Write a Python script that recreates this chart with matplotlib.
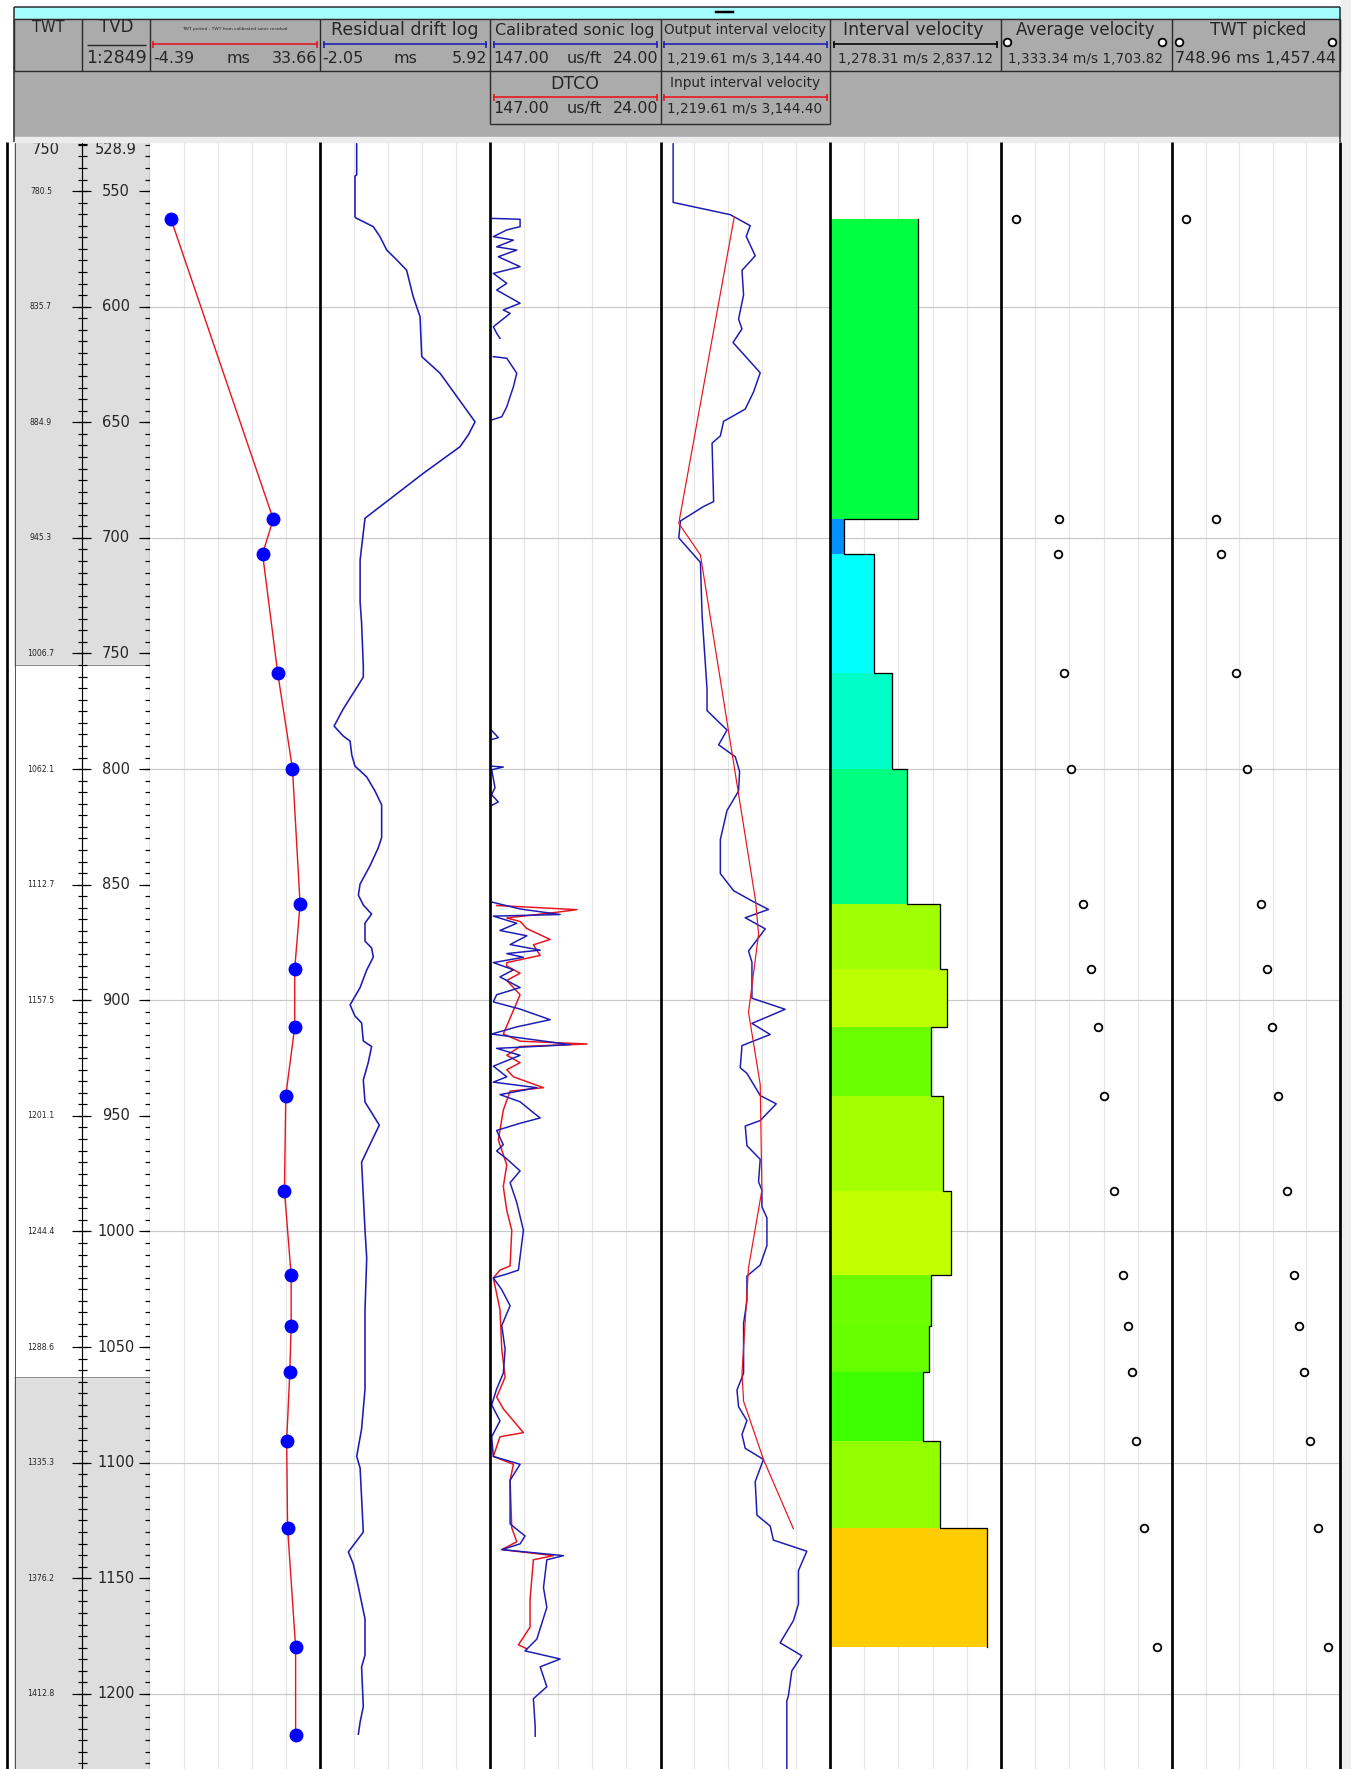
import numpy as np
import matplotlib
matplotlib.use("Agg")
import matplotlib.pyplot as plt
from matplotlib.patches import Rectangle

plt.rcParams['font.family'] = ['DejaVu Sans']

# ---------------- data ----------------
# check-shot depths (TVD, m) and TWT residual (ms)
cs_depth = [562.1, 691.9, 706.9, 758.5, 799.8, 858.4, 886.4, 911.5, 941.3,
            982.3, 1018.9, 1040.9, 1060.9, 1090.6, 1128.1, 1179.7, 1217.7]
twt_residual = [0.3, 23.2, 20.8, 24.2, 27.5, 29.2, 28.0, 28.0, 26.0,
                25.7, 27.2, 27.2, 26.9, 26.2, 26.4, 28.2, 28.2]

# residual drift log (ms)
drift_depth = [528.9, 543.0, 543.5, 561.2, 561.8, 565.4, 569.7, 575.5, 579.8, 584.2,
               595.7, 604.3, 621.6, 628.8, 649.8, 655.5, 660.6, 672.1, 691.5, 709.6,
               727.7, 736.8, 755.4, 760.2, 764.8, 769.3, 774.0, 781.4, 785.7, 787.9,
               793.9, 798.7, 803.4, 809.5, 815.5, 829.6, 834.1, 841.9, 849.7, 854.5,
               858.8, 862.7, 866.6, 874.4, 877.4, 881.3, 886.9, 894.5, 902.0, 906.8,
               909.8, 917.6, 920.0, 927.0, 934.5, 944.0, 948.6, 954.0, 960.9, 970.0,
               999.4, 1011.5, 1034.0, 1068.2, 1085.4, 1097.3, 1102.3, 1130.0, 1138.6, 1143.8,
               1153.8, 1167.6, 1183.2, 1188.4, 1205.5, 1212.2, 1217.4]
drift_val = [-0.33, -0.33, -0.41, -0.41, -0.33, 0.45, 0.76, 1.08, 1.55, 2.01,
             2.32, 2.64, 2.72, 3.58, 5.22, 4.90, 4.51, 2.79, 0.06, -0.17,
             -0.17, -0.10, -0.02, -0.02, -0.33, -0.64, -0.96, -1.39, -0.96, -0.64,
             -0.56, -0.41, 0.14, 0.53, 0.84, 0.84, 0.68, 0.29, -0.17, -0.25,
             -0.02, 0.37, 0.06, 0.06, 0.37, 0.45, 0.14, -0.17, -0.64, -0.41,
             -0.10, -0.02, 0.37, 0.21, -0.02, 0.06, 0.37, 0.73, 0.37, -0.10,
             0.06, 0.14, 0.06, 0.06, -0.10, -0.33, -0.17, -0.02, -0.72, -0.49,
             -0.25, 0.06, 0.06, -0.10, -0.02, -0.17, -0.25]

nan = np.nan
# calibrated sonic log (us/ft)
cal_depth = [561.8, 562.2, 565.4, 566.8, 569.7, 571.2, 574.1, 575.5, 578.4, 582.7,
             585.6, 589.9, 592.8, 598.5, 601.4, 602.9, 608.7, 611.5, 613.7, nan,
             621.6, 622.3, 628.8, 634.6, 638.9, 643.3, 647.6, 649.0, nan,
             782.5, 786.4, 787.2, nan,
             798.7, 799.1, 800.3, 808.0, 811.1, 814.2, 815.7, nan,
             857.5, 860.5, 862.9, 863.6, 866.7, 869.8, 872.1, 875.9, 878.3, 879.8,
             881.4, 883.7, 886.8, 889.9, 894.5, 897.6, 900.7, 903.8, 908.4, 911.5,
             914.6, 919.2, 920.8, 923.8, 928.5, 933.1, 935.4, 937.8, 940.8, 943.9,
             948.6, 950.9, 953.2, 956.3, 962.5, 965.2, 968.6, 973.8, 978.9, 987.5,
             999.5, 1016.7, 1018.4, 1020.1, 1025.2, 1032.1, 1040.7, 1051.0, 1061.3, 1068.1,
             1075.0, 1081.9, 1088.8, 1097.3, 1100.7, 1107.6, 1126.5, 1131.7, 1135.1, 1137.6,
             1140.2, 1142.0, 1154.0, 1162.6, 1176.3, 1181.4, 1184.9, 1188.3, 1196.9, 1202.1,
             1214.1, 1218.3]
cal_dt = [145.8, 125.3, 125.3, 134.9, 144.6, 130.1, 142.2, 127.7, 141.0, 125.3,
          144.6, 134.9, 142.2, 125.3, 137.4, 132.5, 144.6, 142.2, 139.8, nan,
          144.6, 134.9, 127.7, 130.1, 132.5, 134.9, 138.5, 145.8, nan,
          147.0, 141.0, 145.8, nan,
          147.0, 137.4, 145.8, 143.4, 145.8, 141.0, 145.8, nan,
          145.8, 125.3, 96.4, 144.6, 127.7, 139.8, 120.4, 132.5, 110.8, 134.9,
          122.9, 144.6, 130.1, 139.8, 125.3, 142.2, 144.6, 125.3, 103.6, 127.7,
          145.8, 89.1, 142.2, 125.3, 144.6, 134.9, 144.6, 113.2, 139.8, 125.3,
          115.7, 110.8, 125.3, 142.2, 137.4, 142.2, 134.9, 125.3, 132.5, 127.7,
          122.9, 126.5, 134.9, 144.6, 138.5, 132.5, 138.5, 136.1, 137.4, 142.2,
          145.8, 139.8, 145.8, 144.6, 125.3, 132.5, 132.5, 121.7, 125.3, 138.5,
          94.0, 106.0, 108.4, 106.0, 113.2, 121.7, 96.4, 110.8, 106.0, 115.7,
          114.4, 114.4]

# DTCO (us/ft)
dtco_depth = [859.0, 860.8, 862.1, 864.4, 865.9, 869.0, 873.7, 876.0, 880.6, 883.7,
              885.2, 888.3, 891.4, 897.6, 914.6, 917.7, 918.9, 920.0, 923.8, 927.0,
              930.0, 933.1, 937.8, 939.3, 947.5, 960.4, 971.2, 980.6, 990.9, 999.5,
              1014.9, 1016.7, 1020.1, 1033.8, 1051.0, 1063.0, 1071.6, 1076.7, 1087.0, 1088.8,
              1097.3, 1100.7, 1107.6, 1128.2, 1134.2, 1137.6, 1140.2, 1142.0, 1159.1, 1171.1,
              1178.8, 1180.5]
dtco_val = [142.2, 84.3, 101.2, 134.9, 125.3, 120.4, 103.6, 115.7, 110.8, 134.9,
            134.9, 125.3, 134.9, 125.3, 137.4, 125.3, 77.0, 125.3, 134.9, 125.3,
            134.9, 130.1, 108.4, 132.5, 137.4, 141.0, 134.9, 137.4, 134.9, 131.3,
            132.5, 139.8, 144.6, 139.8, 138.5, 136.1, 142.2, 137.4, 122.9, 139.8,
            144.6, 130.1, 132.5, 131.3, 127.7, 138.5, 101.2, 115.7, 118.1, 118.1,
            126.5, 120.4]

# output interval velocity (m/s)
out_depth = [528.9, 554.9, 560.2, 565.0, 569.6, 578.0, 584.3, 594.9, 605.4, 609.6,
             615.5, 628.6, 636.9, 644.3, 649.6, 655.9, 659.0, 684.3, 686.4, 692.7,
             700.0, 710.6, 733.7, 765.3, 774.7, 783.1, 789.5, 794.7, 801.1, 809.5,
             817.9, 830.5, 845.2, 852.6, 857.4, 860.7, 864.3, 869.1, 878.7, 883.5,
             899.1, 903.9, 910.0, 914.8, 919.6, 929.2, 931.6, 941.2, 944.8, 952.0,
             954.4, 962.9, 968.8, 978.5, 982.1, 989.3, 994.1, 1006.1, 1014.5, 1019.3,
             1030.1, 1039.7, 1061.3, 1068.6, 1075.8, 1081.8, 1087.8, 1093.8, 1098.6, 1108.2,
             1122.7, 1127.4, 1133.5, 1138.3, 1146.7, 1161.1, 1168.3, 1177.9, 1183.5, 1190.0,
             1200.8, 1203.1, 1232.5]
out_vel = [1363, 1363, 2012, 2239, 2193, 2295, 2145, 2163, 2106, 2145,
           2043, 2352, 2276, 2182, 1936, 1899, 1805, 1823, 1710, 1446,
           1427, 1673, 1692, 1748, 1748, 1975, 1880, 2069, 2118, 2106,
           1975, 1899, 1899, 2050, 2276, 2446, 2182, 2409, 2219, 2258,
           2258, 2635, 2258, 2465, 2145, 2125, 2201, 2352, 2534, 2352,
           2182, 2201, 2352, 2333, 2371, 2371, 2428, 2428, 2352, 2201,
           2201, 2163, 2163, 2088, 2106, 2201, 2145, 2182, 2389, 2295,
           2315, 2465, 2502, 2881, 2786, 2786, 2729, 2578, 2824, 2711,
           2672, 2654, 2654]

# input interval velocity (m/s)
in_depth = [561.2, 693.7, 707.4, 857.1, 871.5, 905.2, 936.4, 982.1, 1015.7, 1061.3,
            1073.4, 1098.6, 1128.6]
in_vel = [2057, 1427, 1673, 2300, 2333, 2219, 2352, 2371, 2219, 2145,
          2163, 2389, 2729]

# interval velocity blocks (between check shots)
int_vel = [2077.8, 1405.9, 1679.4, 1840.8, 1983.0, 2281.1, 2347.7, 2199.0,
           2311.2, 2378.6, 2199.0, 2183.5, 2123.1, 2281.1, 2712.3]
int_colors = ['#00ff40', '#0090ff', '#00ffff', '#00ffc8', '#00ff80', '#a0ff00',
              '#bcff00', '#6cff00', '#a4ff00', '#c4ff00', '#6cff00', '#66ff00',
              '#3cff00', '#94ff00', '#ffcc00']

# average velocity (m/s) and TWT picked (ms) at check shots
avg_vel = [1365.2, 1458.3, 1456.8, 1470.5, 1485.0, 1511.6, 1528.3, 1542.8,
           1557.1, 1578.8, 1598.3, 1609.2, 1616.5, 1625.8, 1642.5, 1670.7]
twt_picked = [806.7, 933.2, 954.3, 1018.9, 1064.0, 1123.0, 1148.3, 1169.4,
              1197.2, 1232.7, 1263.4, 1284.5, 1305.6, 1330.9, 1365.9, 1405.6]

# depth scale labels
tvd_ticks = [550, 600, 650, 700, 750, 800, 850, 900, 950, 1000, 1050, 1100, 1150, 1200]
twt_labels = ['780.5', '835.7', '884.9', '945.3', '1006.7', '1062.1', '1112.7',
              '1157.5', '1201.1', '1244.4', '1288.6', '1335.3', '1376.2', '1412.8']
grid_depths = [600, 700, 800, 900, 1000, 1100, 1200]

# ---------------- layout ----------------
W, H = 1351, 1769
Y_TOP = 142.3
PX_PER_M = 2.312
D_TOP = 528.9
D_BOT = D_TOP + (H - Y_TOP) / PX_PER_M

fig = plt.figure(figsize=(W / 100, H / 100), dpi=100)
fig.patch.set_facecolor('white')


def ax_px(x0, y0, x1, y1):
    return fig.add_axes([x0 / W, 1 - y1 / H, (x1 - x0) / W, (y1 - y0) / H])


TXT = '#262626'
BLUE = '#1c1cb4'
RED = '#e8141e'
PT = 0.72  # points per pixel

# ---- depth track ----
axd = ax_px(14, Y_TOP, 150, H)
axd.set_xlim(14, 150)
axd.set_ylim(D_BOT, D_TOP)
axd.set_facecolor('#dedede')
for s in axd.spines.values():
    s.set_visible(False)
axd.set_xticks([])
axd.set_yticks([])
axd.axhspan(755, 1063, color='white', zorder=0)
axd.hlines([755, 1063], 14, 150, color='#8c8c8c', lw=1 * PT)
axd.vlines(82, D_TOP, D_BOT, color='black', lw=1.2 * PT)
axd.vlines(149.5, D_TOP, D_BOT, color='black', lw=1.2 * PT)
axd.vlines(14.5, D_TOP, D_BOT, color='#555555', lw=1 * PT)
minor = np.arange(530, D_BOT, 5)
axd.hlines(minor, 78, 86.5, color='black', lw=1.2 * PT)
axd.hlines(minor, 145, 150, color='black', lw=1.2 * PT)
axd.hlines(tvd_ticks, 72, 91, color='black', lw=1.2 * PT)
axd.hlines(tvd_ticks, 139, 150, color='black', lw=1.2 * PT)
axd.hlines([D_TOP + 0.6], 78, 86.5, color='black', lw=1.2 * PT)
for d, lab in zip(tvd_ticks, twt_labels):
    axd.text(116, d, str(d), ha='center', va='center', fontsize=10.5, color=TXT)
    axd.text(41, d, lab, ha='center', va='center', fontsize=5.6, color=TXT)
axd.text(116, D_TOP + 2.9, '528.9', ha='center', va='center', fontsize=10.5, color=TXT)
axd.text(46, D_TOP + 2.9, '750', ha='center', va='center', fontsize=10.5, color=TXT)


def make_track(x0, x1, lim):
    ax = ax_px(x0, Y_TOP, x1, H)
    ax.set_xlim(*lim)
    ax.set_ylim(D_BOT, D_TOP)
    ax.set_facecolor('white')
    for s in ax.spines.values():
        s.set_visible(False)
    ax.set_xticks([])
    ax.set_yticks([])
    for k in range(1, 5):
        ax.axvline(lim[0] + k * (lim[1] - lim[0]) / 5, color='#e6e6e6', lw=1.2 * PT, zorder=0)
    for d in grid_depths:
        ax.axhline(d, color='#c8c8c8', lw=1.2 * PT, zorder=0.5)
    return ax


# track 1: TWT residual
ax1 = make_track(150, 320, (-4.39, 33.66))
ax1.plot(twt_residual, cs_depth, color=RED, lw=1.4 * PT, zorder=2)
ax1.plot(twt_residual, cs_depth, 'o', color='#0000ff', ms=9, zorder=3)

# track 2: residual drift log
ax2 = make_track(320, 490, (-2.05, 5.92))
ax2.plot(drift_val, drift_depth, color=BLUE, lw=1.6 * PT, zorder=2)

# track 3: sonic logs
ax3 = make_track(490, 660.5, (147.0, 24.0))
ax3.plot(dtco_val, dtco_depth, color=RED, lw=1.5 * PT, zorder=2)
ax3.plot(cal_dt, cal_depth, color=BLUE, lw=1.5 * PT, zorder=3)

# track 4: interval velocities
ax4 = make_track(660.5, 830, (1219.61, 3144.40))
ax4.plot(out_vel, out_depth, color=BLUE, lw=1.5 * PT, zorder=2)
ax4.plot(in_vel, in_depth, color=RED, lw=1.2 * PT, zorder=3)

# track 5: interval velocity blocks
vmin5 = 1278.31
ax5 = make_track(830, 1001, (vmin5, 2837.12))
tops = np.array(cs_depth[:15])
bots = np.array(cs_depth[1:16])
iv = np.array(int_vel)
ax5.barh((tops + bots) / 2, iv - vmin5, left=vmin5, height=bots - tops,
         color=int_colors, edgecolor='none', zorder=2)
step_y = np.repeat(cs_depth[:16], 2)[1:-1]
step_x = np.repeat(iv, 2)
ax5.plot(step_x, step_y, color='black', lw=1.3 * PT, zorder=3)

# track 6: average velocity
ax6 = make_track(1001, 1172, (1333.34, 1703.82))
ax6.plot(avg_vel, cs_depth[:16], 'o', mfc='white', mec='black', ms=5.5, mew=1.3, zorder=3)

# track 7: TWT picked
ax7 = make_track(1172, 1340, (748.96, 1457.44))
ax7.plot(twt_picked, cs_depth[:16], 'o', mfc='white', mec='black', ms=5.5, mew=1.3, zorder=3)

# ---------------- overlay: frame & header ----------------
ov = fig.add_axes([0, 0, 1, 1])
ov.set_xlim(0, W)
ov.set_ylim(H, 0)
ov.axis('off')

ov.add_patch(Rectangle((1341, 0), 10, H, color='#eeeeee', zorder=0))
ov.add_patch(Rectangle((14, 7), 1326, 12, color='#a4fefe', zorder=1))
ov.add_patch(Rectangle((14, 19), 1326, 118, color='#ababab', zorder=1))
ov.add_patch(Rectangle((14, 137), 1326, 5.3, color='#ececec', zorder=1))
ov.plot([716, 733], [12, 12], color='black', lw=2.5 * PT, zorder=3)

LC = '#2a2a2a'
ov.hlines(7, 14, 1340, color=LC, lw=1.5 * PT, zorder=3)
ov.vlines(14, 7, 142, color=LC, lw=1.5 * PT, zorder=3)
ov.vlines(1340, 7, 142, color=LC, lw=1.5 * PT, zorder=3)
ov.hlines([19, 71], 14, 1340, color=LC, lw=1.4 * PT, zorder=3)
ov.vlines([14, 82, 150, 320, 490, 661, 830, 1001, 1172, 1340], 19, 71, color=LC,
          lw=1.4 * PT, zorder=3)
ov.hlines(124, 490, 830, color=LC, lw=1.4 * PT, zorder=3)
ov.vlines([490, 661, 830], 71, 124, color=LC, lw=1.4 * PT, zorder=3)

# frame lines in the data area
ov.vlines([320, 490, 660.5, 830, 1001, 1172, 1340], Y_TOP, H, color='black', lw=2.7 * PT, zorder=4)
ov.vlines(6.5, Y_TOP, H, color='black', lw=2.7 * PT, zorder=4)

# header texts
def legend_line(x0, x1, y, color):
    ov.plot([x0, x1], [y, y], color=color, lw=1.6 * PT, zorder=4)
    ov.vlines([x0, x1], y - 3.5, y + 3.5, color=color, lw=1.6 * PT, zorder=4)


ov.text(48, 27, 'TWT', ha='center', va='center', fontsize=10.5, color=TXT, zorder=5)
ov.text(116, 27, 'TVD', ha='center', va='center', fontsize=12, color=TXT, zorder=5)
ov.hlines(45, 87, 146, color=TXT, lw=1.4 * PT, zorder=5)
ov.text(116, 58, '1:2849', ha='center', va='center', fontsize=12.5, color=TXT, zorder=5)

# track 1
ov.text(235, 29, 'TWT picked - TWT from calibrated sonic residual', ha='center', va='center',
        fontsize=3.2, color=TXT, zorder=5)
legend_line(153, 317, 44, RED)
ov.text(153, 58.5, '-4.39', ha='left', va='center', fontsize=11.5, color=TXT, zorder=5)
ov.text(238, 58.5, 'ms', ha='center', va='center', fontsize=11.5, color=TXT, zorder=5)
ov.text(317, 58.5, '33.66', ha='right', va='center', fontsize=11.5, color=TXT, zorder=5)
# track 2
ov.text(405, 30, 'Residual drift log', ha='center', va='center', fontsize=12.5, color=TXT, zorder=5)
legend_line(324, 486, 44, BLUE)
ov.text(322, 58.5, '-2.05', ha='left', va='center', fontsize=11.5, color=TXT, zorder=5)
ov.text(405, 58.5, 'ms', ha='center', va='center', fontsize=11.5, color=TXT, zorder=5)
ov.text(487, 58.5, '5.92', ha='right', va='center', fontsize=11.5, color=TXT, zorder=5)
# track 3
ov.text(575, 30, 'Calibrated sonic log', ha='center', va='center', fontsize=11.5, color=TXT, zorder=5)
legend_line(494, 657, 44, BLUE)
for yy in (58.5, 108.5):
    ov.text(493, yy, '147.00', ha='left', va='center', fontsize=11.5, color=TXT, zorder=5)
    ov.text(584, yy, 'us/ft', ha='center', va='center', fontsize=11.5, color=TXT, zorder=5)
    ov.text(658, yy, '24.00', ha='right', va='center', fontsize=11.5, color=TXT, zorder=5)
ov.text(575, 84, 'DTCO', ha='center', va='center', fontsize=12.5, color=TXT, zorder=5)
legend_line(494, 657, 97, RED)
# track 4
ov.text(745, 30, 'Output interval velocity', ha='center', va='center', fontsize=9.8, color=TXT, zorder=5)
legend_line(664, 827, 44, BLUE)
ov.text(745, 58.5, '1,219.61 m/s 3,144.40', ha='center', va='center', fontsize=9.8, color=TXT, zorder=5)
ov.text(745, 83, 'Input interval velocity', ha='center', va='center', fontsize=9.8, color=TXT, zorder=5)
legend_line(664, 827, 97, RED)
ov.text(745, 108.5, '1,219.61 m/s 3,144.40', ha='center', va='center', fontsize=9.8, color=TXT, zorder=5)
# track 5
ov.text(913, 30, 'Interval velocity', ha='center', va='center', fontsize=12.5, color=TXT, zorder=5)
legend_line(834, 997, 44, 'black')
ov.text(915, 58.5, '1,278.31 m/s 2,837.12', ha='center', va='center', fontsize=9.8, color=TXT, zorder=5)
# track 6
ov.text(1085, 30, 'Average velocity', ha='center', va='center', fontsize=12, color=TXT, zorder=5)
ov.plot([1007, 1162], [42, 42], 'o', mfc='white', mec='black', ms=5.5, mew=1.3, zorder=5)
ov.text(1086, 58.5, '1,333.34 m/s 1,703.82', ha='center', va='center', fontsize=9.8, color=TXT, zorder=5)
# track 7
ov.text(1258, 30, 'TWT picked', ha='center', va='center', fontsize=12, color=TXT, zorder=5)
ov.plot([1179, 1332], [42, 42], 'o', mfc='white', mec='black', ms=5.5, mew=1.3, zorder=5)
ov.text(1256, 58.5, '748.96 ms 1,457.44', ha='center', va='center', fontsize=11.5, color=TXT, zorder=5)

fig.savefig('out.png', dpi=100)
